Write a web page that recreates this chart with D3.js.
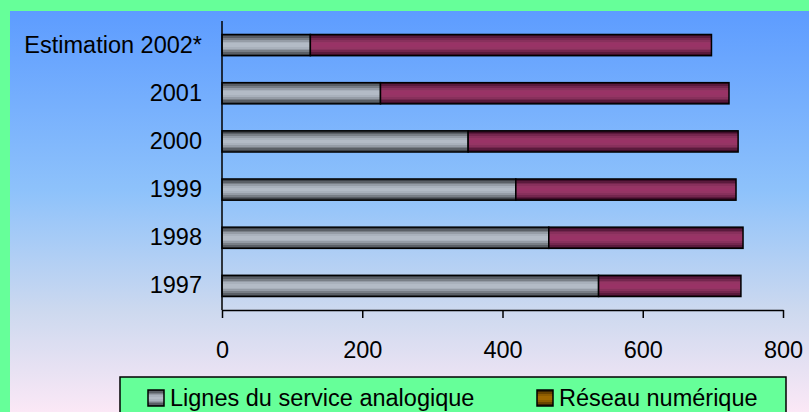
<!DOCTYPE html>
<html>
<head>
<meta charset="utf-8">
<script src="https://cdn.jsdelivr.net/npm/d3@7"></script>
<style>
  body { margin: 0; background: #66ff99; }
  svg { display: block; font-family: "Liberation Sans", Arial, sans-serif; }
</style>
</head>
<body>
<script>
// categories, top to bottom
var categories = ["Estimation 2002*", "2001", "2000", "1999", "1998", "1997"];
// values
var analogique = [126, 226, 351, 419, 466, 537];
var numerique  = [572, 497, 385, 314, 277, 203];
var xTicks = [0, 200, 400, 600, 800];
var seriesNames = ["Lignes du service analogique", "Réseau numérique"];

var width = 809, height = 412;
var margin = {top: 21, left: 222, right: 27, bottom: 102};
var fontSize = 23.5;

var svg = d3.select("body").append("svg")
    .attr("width", width)
    .attr("height", height);

var defs = svg.append("defs");

// panel background
var bg = defs.append("linearGradient").attr("id", "bg")
    .attr("x1", 0).attr("y1", 0).attr("x2", 0).attr("y2", 1);
bg.append("stop").attr("offset", "0%").attr("stop-color", "#5d9cff");
bg.append("stop").attr("offset", "45%").attr("stop-color", "#8ec2fb");
bg.append("stop").attr("offset", "75%").attr("stop-color", "#cdd9ef");
bg.append("stop").attr("offset", "100%").attr("stop-color", "#fbe8f6");

// striped bar fills
function stripes(id, cols) {
  var g = defs.append("linearGradient").attr("id", id)
      .attr("x1", 0).attr("y1", 0).attr("x2", 0).attr("y2", 1);
  var n = cols.length;
  cols.forEach(function(c, i) {
    g.append("stop").attr("offset", (i / n * 100) + "%").attr("stop-color", c);
    g.append("stop").attr("offset", ((i + 1) / n * 100) + "%").attr("stop-color", c);
  });
}
stripes("gray", ["#3e4248", "#5a5f66", "#787e86", "#959ca6", "#a9b1bc", "#b3bbc6",
                 "#b3bbc6", "#a9b1bc", "#959ca6", "#787e86", "#5a5f66", "#3e4248"]);
stripes("pink", ["#3e0c28", "#5a1a3c", "#74264e", "#88305c", "#953564", "#993366",
                 "#993366", "#953564", "#88305c", "#74264e", "#5a1a3c", "#3e0c28"]);
stripes("brown", ["#3a2400", "#6a4400", "#8e5c00", "#a06800", "#a06800", "#8e5c00", "#6a4400", "#3a2400"]);

svg.append("rect")
    .attr("x", 10).attr("y", 11)
    .attr("width", width - 10).attr("height", height - 11)
    .attr("fill", "url(#bg)");

var x = d3.scaleLinear()
    .domain([0, 800])
    .range([margin.left, width - margin.right + 1]);

var y = d3.scaleBand()
    .domain(categories)
    .range([margin.top, 310])
    .paddingInner(0.56)
    .paddingOuter(0.28);

var rows = categories.map(function(c, i) {
  return {cat: c, a: analogique[i], n: numerique[i]};
});

var g = svg.append("g");

// analog segment
g.selectAll(".bar-a")
  .data(rows)
  .enter().append("rect")
    .attr("class", "bar-a")
    .attr("x", x(0))
    .attr("y", function(d) { return y(d.cat); })
    .attr("width", function(d) { return x(d.a) - x(0); })
    .attr("height", y.bandwidth())
    .attr("fill", "url(#gray)")
    .attr("stroke", "#000")
    .attr("stroke-width", 1.5);

// digital segment
g.selectAll(".bar-n")
  .data(rows)
  .enter().append("rect")
    .attr("class", "bar-n")
    .attr("x", function(d) { return x(d.a); })
    .attr("y", function(d) { return y(d.cat); })
    .attr("width", function(d) { return x(d.a + d.n) - x(d.a); })
    .attr("height", y.bandwidth())
    .attr("fill", "url(#pink)")
    .attr("stroke", "#000")
    .attr("stroke-width", 1.5);

// y axis
var yAxis = g.append("g")
    .attr("transform", "translate(" + x(0) + ",0)")
    .call(d3.axisLeft(y).tickSize(0).tickPadding(20));
yAxis.attr("font-size", fontSize).attr("font-family", "Liberation Sans, Arial, sans-serif");
yAxis.select(".domain").attr("stroke", "#000").attr("stroke-width", 1.5)
    .attr("d", "M0,21V310");
yAxis.selectAll("text").attr("fill", "#000");

// x axis
var xAxis = g.append("g")
    .attr("transform", "translate(0,310)")
    .call(d3.axisBottom(x).tickValues(xTicks).tickSize(8).tickSizeOuter(0).tickPadding(23));
xAxis.attr("font-size", fontSize).attr("font-family", "Liberation Sans, Arial, sans-serif");
xAxis.select(".domain").attr("stroke", "#000").attr("stroke-width", 1.5);
xAxis.selectAll(".tick line").attr("stroke", "#000").attr("stroke-width", 1.5);
xAxis.selectAll("text").attr("fill", "#000");

// legend
var lg = svg.append("g");
lg.append("rect")
    .attr("x", 120).attr("y", 377)
    .attr("width", 666).attr("height", 40)
    .attr("fill", "#66ff99")
    .attr("stroke", "#000").attr("stroke-width", 1.5);

var legendX = [148, 537];
var legendFill = ["url(#gray)", "url(#brown)"];
seriesNames.forEach(function(name, i) {
  lg.append("rect")
      .attr("x", legendX[i]).attr("y", 390)
      .attr("width", 16).attr("height", 16)
      .attr("fill", legendFill[i])
      .attr("stroke", "#000").attr("stroke-width", 1.5);
  lg.append("text")
      .attr("x", legendX[i] + 22).attr("y", 406)
      .attr("font-size", fontSize)
      .text(name);
});
</script>
</body>
</html>
